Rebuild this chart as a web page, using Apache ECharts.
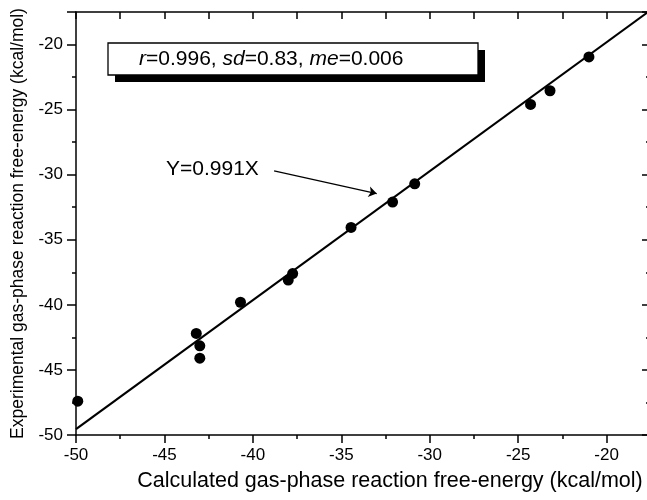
<!DOCTYPE html>
<html lang="en">
<head>
    <meta charset="UTF-8">
    <title>gas_phase_free_energy</title>
    <script src="https://cdn.jsdelivr.net/npm/echarts@6/dist/echarts.min.js"></script>
    <style>
        html,body{margin:0;padding:0;background:#fff}
        #main{width:647px;height:500px}
    </style>
</head>
<body>
    <div id="main"></div>
    <script>
        // 计算值与实验值 (kcal/mol)
        var calcX = [-49.9, -43.2, -43.0, -43.0, -40.7, -38.0, -37.75, -34.45, -32.1, -30.85, -24.3, -23.2, -21.0];
        var exptY = [-47.4, -42.2, -43.15, -44.1, -39.8, -38.1, -37.6, -34.05, -32.1, -30.7, -24.6, -23.55, -20.95];
        var slope = 0.991;
        var fitX = [-50, -17.66];
        var xTicks = {min: -50, max: -17.66, interval: 5};
        var yTicks = {min: -50, max: -17.5, interval: 5};
        var arrowFrom = [-38.8, -29.7];
        var arrowTo = [-33.0, -31.45];
        var statsText = '{i|r}=0.996, {i|sd}=0.83, {i|me}=0.006';
        var fitText = 'Y=0.991X';

        var points = calcX.map(function (x, i) { return [x, exptY[i]]; });
        var fitLine = fitX.map(function (x) { return [x, slope * x]; });

        var font = 'Liberation Sans, Arial, sans-serif';
        var axisLine = {show: true, onZero: false, lineStyle: {color: '#000', width: 1.5}};

        var mychart = echarts.init(document.getElementById('main'));
        var option = {
            animation: false,
            grid: {left: 76, right: -1, top: 12, bottom: 65, outerBoundsMode: 'none', containLabel: false},
            xAxis: [
                {
                    type: 'value', position: 'bottom',
                    min: xTicks.min, max: xTicks.max, interval: xTicks.interval,
                    name: 'Calculated gas-phase reaction free-energy (kcal/mol)',
                    nameLocation: 'middle', nameGap: 35,
                    nameTextStyle: {fontFamily: font, fontSize: 21.5, color: '#000', padding: [0, 0, 0, 56]},
                    axisLine: axisLine,
                    axisTick: {show: true, length: 8, lineStyle: {color: '#000', width: 1.5}},
                    minorTick: {show: true, splitNumber: 2, length: 4, lineStyle: {color: '#000', width: 1.5}},
                    splitLine: {show: false},
                    axisLabel: {margin: 12, fontFamily: font, fontSize: 17, color: '#000', showMaxLabel: false}
                },
                {
                    type: 'value', position: 'top',
                    min: xTicks.min, max: xTicks.max, interval: xTicks.interval,
                    axisLine: axisLine,
                    axisTick: {show: true, inside: true, length: 7, lineStyle: {color: '#000', width: 1.5}},
                    minorTick: {show: true, splitNumber: 2, length: 7, lineStyle: {color: '#000', width: 1.5}},
                    splitLine: {show: false},
                    axisLabel: {show: false}
                }
            ],
            yAxis: [
                {
                    type: 'value', position: 'left',
                    min: yTicks.min, max: yTicks.max, interval: yTicks.interval,
                    name: 'Experimental gas-phase reaction free-energy (kcal/mol)',
                    nameLocation: 'middle', nameGap: 47,
                    nameTextStyle: {fontFamily: font, fontSize: 17.5, color: '#000'},
                    axisLine: axisLine,
                    axisTick: {show: true, length: 9, lineStyle: {color: '#000', width: 1.5}},
                    minorTick: {show: true, splitNumber: 2, length: 4, lineStyle: {color: '#000', width: 1.5}},
                    splitLine: {show: false},
                    axisLabel: {margin: 13, fontFamily: font, fontSize: 17, color: '#000', showMaxLabel: false}
                },
                {
                    type: 'value', position: 'right',
                    min: yTicks.min, max: yTicks.max, interval: yTicks.interval,
                    axisLine: {show: false},
                    axisTick: {show: true, inside: true, length: 6, lineStyle: {color: '#000', width: 1.5}},
                    minorTick: {show: true, splitNumber: 2, length: 2, lineStyle: {color: '#000', width: 1.5}},
                    splitLine: {show: false},
                    axisLabel: {show: false}
                }
            ],
            series: [
                {
                    name: 'fit', type: 'line',
                    data: fitLine,
                    symbol: 'none',
                    lineStyle: {color: '#000', width: 2.2},
                    markLine: {
                        silent: true,
                        symbol: ['none', 'arrow'],
                        symbolSize: 8,
                        label: {show: false},
                        lineStyle: {color: '#000', width: 1.3, type: 'solid'},
                        data: [[{coord: arrowFrom}, {coord: arrowTo}]]
                    }
                },
                {
                    name: 'data', type: 'scatter',
                    data: points,
                    symbol: 'circle', symbolSize: 11,
                    itemStyle: {color: '#000', opacity: 1}
                }
            ],
            graphic: [
                {type: 'rect', shape: {x: 115, y: 50, width: 370, height: 32}, style: {fill: '#000'}},
                {type: 'rect', shape: {x: 108, y: 43, width: 370, height: 32}, style: {fill: '#fff', stroke: '#000', lineWidth: 1.3}},
                {
                    type: 'text', x: 139, y: 59,
                    style: {
                        text: statsText, fontFamily: font, fontSize: 21, fill: '#000',
                        verticalAlign: 'middle',
                        rich: {i: {fontStyle: 'italic', fontFamily: font, fontSize: 21}}
                    }
                },
                {
                    type: 'text', x: 166, y: 169,
                    style: {text: fitText, fontFamily: font, fontSize: 21, fill: '#000', verticalAlign: 'middle'}
                }
            ]
        };
        mychart.setOption(option);
    </script>
</body>
</html>
